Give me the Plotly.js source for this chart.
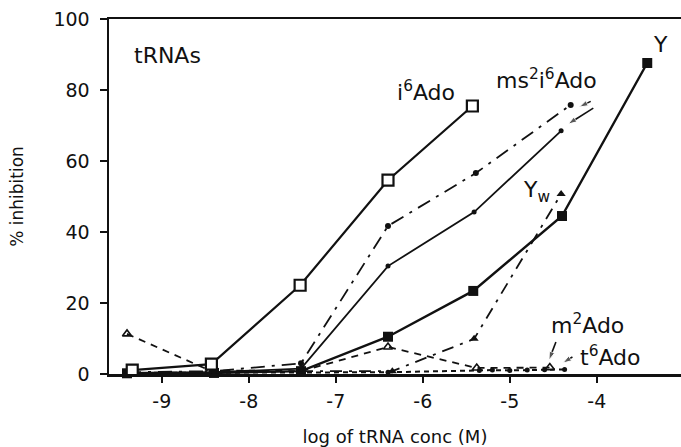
<!DOCTYPE html>
<html>
<head>
<meta charset="utf-8">
<script src="https://cdn.plot.ly/plotly-3.0.1.min.js"></script>
<style>
  html, body { margin: 0; padding: 0; background: #fff; }
  #chart { width: 681px; height: 447px; }
</style>
</head>
<body>
<div id="chart"></div>
<script>
// ---- data ----
const i6AdoX = [-9.34, -8.43, -7.41, -6.40, -5.43];
const i6AdoY = [1.1, 2.8, 25.0, 54.6, 75.5];

const ms2A_X = [-9.40, -8.40, -7.40, -6.40, -5.39, -4.30];
const ms2A_Y = [0.5, 0.8, 3.0, 41.7, 56.6, 75.8];

const ms2B_X = [-9.40, -8.40, -7.40, -6.40, -5.41, -4.41];
const ms2B_Y = [0.3, 0.5, 1.5, 30.4, 45.6, 68.5];

const Y_X = [-9.40, -8.40, -7.40, -6.40, -5.42, -4.40, -3.42];
const Y_Y = [0.2, 0.3, 0.8, 10.5, 23.4, 44.5, 87.6];

const Yw_X = [-7.40, -6.35, -5.41, -4.41];
const Yw_Y = [0.8, 0.8, 9.9, 50.7];

const m2Ado_X = [-9.40, -8.45, -7.40, -6.40, -5.38, -4.54];
const m2Ado_Y = [11.3, 1.0, 0.8, 7.6, 1.7, 1.8];

const t6Ado_X = [-9.40, -8.40, -7.40, -6.40, -5.35, -5.20, -5.00, -4.80, -4.60, -4.37];
const t6Ado_Y = [0.3, 0.3, 0.4, 0.5, 1.0, 1.1, 1.0, 1.1, 1.2, 1.3];

const xTicks = [-9, -8, -7, -6, -5, -4];
const yTicks = [0, 20, 40, 60, 80, 100];

// label pointer arrows: [tailX, headX], [tailY, headY]
const arrowsX = [[-4.07, -4.20], [-4.04, -4.33], [-4.47, -4.55], [-4.28, -4.39]];
const arrowsY = [[76.8, 75.2], [74.9, 70.4], [9.0, 3.9], [4.8, 3.1]];

const K = '#111';
const FONT = 'DejaVu Sans, Liberation Sans, sans-serif';

const traces = [
  {x: t6Ado_X, y: t6Ado_Y, mode: 'lines+markers', cliponaxis: false,
   line: {color: K, width: 2, dash: '5px,4px'}, marker: {symbol: 'circle', size: 5, color: K}},
  {x: m2Ado_X, y: m2Ado_Y, mode: 'lines+markers', cliponaxis: false,
   line: {color: K, width: 1.8, dash: '7px,6px'},
   marker: {symbol: 'triangle-up-open', size: 8, color: K, line: {width: 1.6, color: K}}},
  {x: Yw_X, y: Yw_Y, mode: 'lines+markers', cliponaxis: false,
   line: {color: K, width: 1.8, dash: '12px,7px,3px,7px'},
   marker: {symbol: 'triangle-up', size: 8, color: K}},
  {x: Y_X, y: Y_Y, mode: 'lines+markers', cliponaxis: false,
   line: {color: K, width: 2.4},
   marker: {symbol: 'square', size: 10, color: K}},
  {x: ms2B_X, y: ms2B_Y, mode: 'lines+markers', cliponaxis: false,
   line: {color: K, width: 1.8},
   marker: {symbol: 'circle', size: 5, color: K}},
  {x: ms2A_X, y: ms2A_Y, mode: 'lines+markers', cliponaxis: false,
   line: {color: K, width: 1.8, dash: '14px,7px,3px,7px'},
   marker: {symbol: 'circle', size: 6, color: K}},
  {x: i6AdoX, y: i6AdoY, mode: 'lines+markers', cliponaxis: false,
   line: {color: K, width: 2.2},
   marker: {symbol: 'square', size: 11, color: '#fff', line: {width: 2.2, color: K}}}
];

arrowsX.forEach((ax, i) => {
  traces.push({
    x: ax, y: arrowsY[i], mode: 'lines+markers', cliponaxis: false,
    line: {color: K, width: 1.6},
    marker: {symbol: ['circle', 'arrow'], size: [0, 9], angleref: 'previous', color: K}
  });
});

const annFont = {family: FONT, size: 22, color: K};

const layout = {
  width: 681, height: 447,
  margin: {l: 109, r: 0, t: 19, b: 73},
  paper_bgcolor: '#fff', plot_bgcolor: '#fff',
  showlegend: false,
  font: {family: FONT, color: K},
  xaxis: {
    range: [-9.607, -3.032], tickvals: xTicks, ticktext: xTicks.map(v => '-' + Math.abs(v)),
    showgrid: false, zeroline: false, showline: true, linecolor: K, linewidth: 2.5,
    mirror: true, ticks: 'outside', ticklen: 6, tickwidth: 2, tickcolor: K,
    tickfont: {family: FONT, size: 19, color: K}, ticklabelstandoff: 3,
    title: {text: 'log of tRNA conc (M)', font: {family: FONT, size: 18, color: K}, standoff: 20}
  },
  yaxis: {
    range: [0, 100], tickvals: yTicks, ticktext: yTicks.map(String),
    showgrid: false, zeroline: false, showline: true, linecolor: K, linewidth: 2.5,
    ticks: 'outside', ticklen: 7, tickwidth: 2, tickcolor: K,
    tickfont: {family: FONT, size: 19, color: K}, ticklabelstandoff: 6,
    title: {text: '% inhibition', font: {family: FONT, size: 17, color: K}, standoff: 26}
  },
  annotations: [
    {text: 'tRNAs', x: -8.94, y: 89.6, xref: 'x', yref: 'y', showarrow: false, font: annFont},
    {text: 'i<sup>6</sup>Ado', x: -5.96, y: 79.8, xref: 'x', yref: 'y', showarrow: false, font: annFont},
    {text: 'ms<sup>2</sup>i<sup>6</sup>Ado', x: -4.58, y: 83.0, xref: 'x', yref: 'y', showarrow: false, font: annFont},
    {text: 'Y', x: -3.27, y: 92.7, xref: 'x', yref: 'y', showarrow: false, font: annFont},
    {text: 'Y<sub>w</sub>', x: -4.69, y: 51.3, xref: 'x', yref: 'y', showarrow: false, font: annFont},
    {text: 'm<sup>2</sup>Ado', x: -4.11, y: 14.2, xref: 'x', yref: 'y', showarrow: false, font: annFont},
    {text: 't<sup>6</sup>Ado', x: -3.84, y: 5.2, xref: 'x', yref: 'y', showarrow: false, font: annFont}
  ]
};

Plotly.newPlot('chart', traces, layout, {displayModeBar: false, staticPlot: true});
</script>
</body>
</html>
